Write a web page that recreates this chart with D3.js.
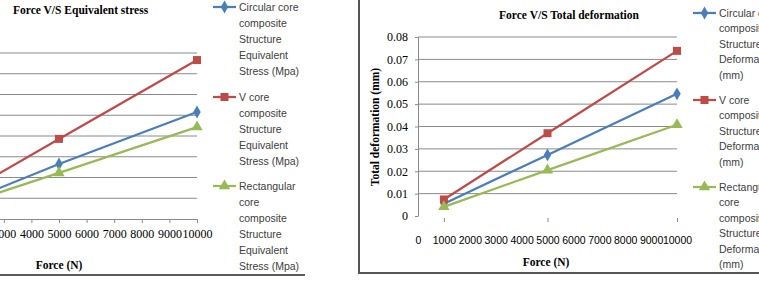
<!DOCTYPE html>
<html>
<head>
<meta charset="utf-8">
<script src="https://cdn.jsdelivr.net/npm/d3@7"></script>
<style>
    body { margin: 0; background: #fff; }
    svg { display: block; }
</style>
</head>
<body>
<div id="chart"></div>
<script>
// Force vs stress / deformation, two Excel style line charts side by side
const forceN = [1000, 5000, 10000];
const xTickValues = [0, 1000, 2000, 3000, 4000, 5000, 6000, 7000, 8000, 9000, 10000];

// left chart (y axis cropped off in the source, units in MPa)
const stressCircular = [10.0, 53.0, 103.2];
const stressV = [15.8, 77.2, 153.2];
const stressRect = [9.5, 44.4, 88.6];
const stressGrid = [20, 40, 60, 80, 100, 120, 140, 160];

// right chart (mm)
const defCircular = [0.0055, 0.0273, 0.0546];
const defV = [0.0074, 0.037, 0.0738];
const defRect = [0.0041, 0.0205, 0.0408];
const defTicks = [0, 0.01, 0.02, 0.03, 0.04, 0.05, 0.06, 0.07, 0.08];
const defTickLabels = ["0", "0.01", "0.02", "0.03", "0.04", "0.05", "0.06", "0.07", "0.08"];

const stressLegend = [
    ["Circular core", "composite", "Structure", "Equivalent", "Stress (Mpa)"],
    ["V core", "composite", "Structure", "Equivalent", "Stress (Mpa)"],
    ["Rectangular", "core", "composite", "Structure", "Equivalent", "Stress (Mpa)"]
];
const defLegend = [
    ["Circular core", "composite", "Structure", "Deformation", "(mm)"],
    ["V core", "composite", "Structure", "Deformation", "(mm)"],
    ["Rectangular", "core", "composite", "Structure", "Deformation", "(mm)"]
];

const colors = ["#4a7ebb", "#be4b48", "#98b954"];
const symbols = [
    d3.symbol().type(d3.symbolDiamond).size(48),
    d3.symbol().type(d3.symbolSquare).size(64),
    d3.symbol().type(d3.symbolTriangle).size(56)
];

const serif = "'Liberation Serif', 'Times New Roman', serif";
const sans = "'Liberation Sans', Arial, sans-serif";

const svg = d3.select("#chart")
    .append("svg")
    .attr("width", 759)
    .attr("height", 292);

function drawSeries(g, x, y, seriesList) {
    seriesList.forEach((vals, i) => {
        const pts = forceN.map((f, j) => ({ f, v: vals[j] }));
        g.append("path")
            .datum(pts)
            .attr("fill", "none")
            .attr("stroke", colors[i])
            .attr("stroke-width", 2.25)
            .attr("d", d3.line().x(d => x(d.f)).y(d => y(d.v)));
        g.selectAll(".m" + i)
            .data(pts)
            .enter()
            .append("path")
            .attr("class", "m" + i)
            .attr("transform", d => `translate(${x(d.f)},${y(d.v)})`)
            .attr("fill", colors[i])
            .attr("d", symbols[i]);
    });
}

function drawLegend(g, entries, x0, tops, lineH) {
    entries.forEach((lines, i) => {
        const cy = tops[i];
        g.append("line")
            .attr("x1", x0).attr("x2", x0 + 23)
            .attr("y1", cy).attr("y2", cy)
            .attr("stroke", colors[i]).attr("stroke-width", 2.25);
        g.append("path")
            .attr("transform", `translate(${x0 + 11.5},${cy})`)
            .attr("fill", colors[i])
            .attr("d", symbols[i]);
        lines.forEach((t, k) => {
            g.append("text")
                .attr("x", x0 + 26)
                .attr("y", cy + k * lineH)
                .attr("dy", "0.35em")
                .attr("font-family", sans)
                .attr("font-size", "10.5px")
                .attr("fill", "#404040")
                .text(t);
        });
    });
}

// ---------- Left chart: Force V/S Equivalent stress ----------
const left = svg.append("g");
const xL = d3.scaleLinear().domain([0, 10000]).range([-79, 197]);
const yL = d3.scaleLinear().domain([0, 160]).range([219, 53]);

left.selectAll(".gridL")
    .data(stressGrid)
    .enter()
    .append("line")
    .attr("x1", xL(0)).attr("x2", xL(10000))
    .attr("y1", d => yL(d)).attr("y2", d => yL(d))
    .attr("stroke", "#8a8a8a");

left.append("g")
    .attr("transform", `translate(0,${yL(0)})`)
    .call(d3.axisBottom(xL).tickValues(xTickValues).tickFormat(d3.format("d"))
        .tickSize(4).tickSizeOuter(0).tickPadding(6))
    .call(g => g.selectAll("path, line").attr("stroke", "#8a8a8a"))
    .call(g => g.selectAll("text")
        .attr("font-family", serif).attr("font-size", "12px").attr("fill", "#000"));

drawSeries(left, xL, yL, [stressCircular, stressV, stressRect]);

left.append("text")
    .attr("x", 13).attr("y", 14)
    .attr("font-family", serif).attr("font-weight", "bold").attr("font-size", "11.5px")
    .text("Force V/S Equivalent stress");

left.append("text")
    .attr("x", 59).attr("y", 269)
    .attr("text-anchor", "middle")
    .attr("font-family", serif).attr("font-weight", "bold").attr("font-size", "11.5px")
    .text("Force (N)");

drawLegend(left, stressLegend, 213, [7, 97, 186], 16);

left.append("line")
    .attr("x1", 0).attr("x2", 305).attr("y1", 275).attr("y2", 275)
    .attr("stroke", "#222").attr("stroke-width", 1.5);

// ---------- Right chart: Force V/S Total deformation ----------
const right = svg.append("g");
const xR = d3.scaleLinear().domain([0, 10000]).range([418, 677]);
const yR = d3.scaleLinear().domain([0, 0.08]).range([216, 37]);

right.selectAll(".gridR")
    .data(defTicks.slice(1))
    .enter()
    .append("line")
    .attr("x1", xR(0)).attr("x2", xR(10000))
    .attr("y1", d => yR(d)).attr("y2", d => yR(d))
    .attr("stroke", "#8a8a8a");

right.append("g")
    .attr("transform", `translate(${xR(0)},0)`)
    .call(d3.axisLeft(yR).tickValues(defTicks).tickFormat((d, i) => defTickLabels[i])
        .tickSize(3).tickSizeOuter(0).tickPadding(7))
    .call(g => g.selectAll("path, line").attr("stroke", "#8a8a8a"))
    .call(g => g.selectAll("text")
        .attr("font-family", serif).attr("font-size", "12px").attr("fill", "#000"));

// x axis: tick marks only at the data points, no axis line
right.append("g")
    .attr("transform", `translate(0,${yR(0) + 2})`)
    .call(d3.axisBottom(xR).tickValues(forceN).tickFormat("").tickSize(4).tickSizeOuter(0))
    .call(g => g.select(".domain").remove())
    .call(g => g.selectAll("line").attr("stroke", "#8a8a8a"));

right.append("g")
    .attr("transform", `translate(0,${yR(0)})`)
    .call(d3.axisBottom(xR).tickValues(xTickValues).tickFormat(d3.format("d"))
        .tickSize(0).tickPadding(21))
    .call(g => g.select(".domain").remove())
    .call(g => g.selectAll("text")
        .attr("font-family", sans).attr("font-size", "10.5px").attr("fill", "#000"));

drawSeries(right, xR, yR, [defCircular, defV, defRect]);

right.append("text")
    .attr("x", 569).attr("y", 19)
    .attr("text-anchor", "middle")
    .attr("font-family", serif).attr("font-weight", "bold").attr("font-size", "11.5px")
    .text("Force V/S Total deformation");

right.append("text")
    .attr("x", 546).attr("y", 266)
    .attr("text-anchor", "middle")
    .attr("font-family", serif).attr("font-weight", "bold").attr("font-size", "11.5px")
    .text("Force (N)");

right.append("text")
    .attr("transform", "translate(375,127) rotate(-90)")
    .attr("text-anchor", "middle")
    .attr("dy", "0.35em")
    .attr("font-family", serif).attr("font-weight", "bold").attr("font-size", "11.5px")
    .text("Total deformation (mm)");

drawLegend(right, defLegend, 693, [13, 100, 187], 15.5);

// chart frame
right.append("path")
    .attr("d", "M359,0 V273 H759")
    .attr("fill", "none")
    .attr("stroke", "#555")
    .attr("stroke-width", 2);
</script>
</body>
</html>
